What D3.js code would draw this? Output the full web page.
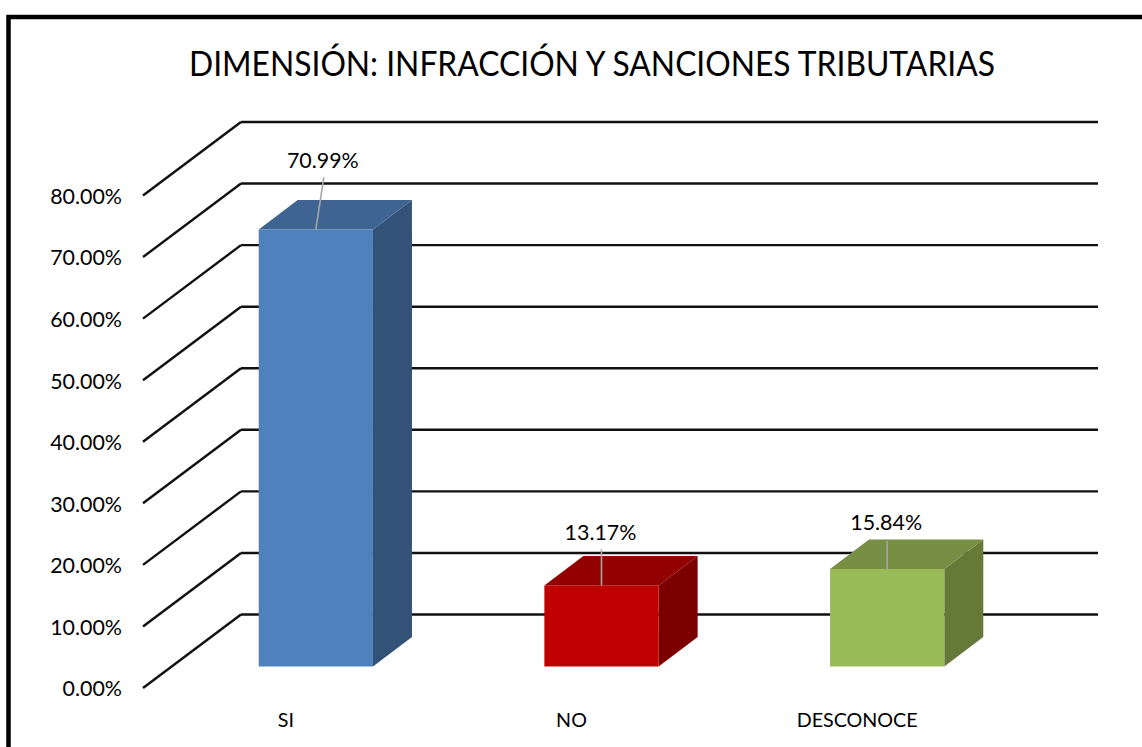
<!DOCTYPE html>
<meta charset="utf-8">
<style>
html, body { margin: 0; padding: 0; background: #fff; overflow: hidden; }
text { font-family: Lato, "Open Sans", sans-serif; fill: #000; }
.axis text { font-size: 21.4px; }
.axis path { display: none; }
.grid line { stroke: #111; stroke-width: 2.4; }
.leader { stroke: #a6a6a6; stroke-width: 1.6; }
.value { font-size: 21.4px; text-anchor: middle; }
.cat { font-size: 19.7px; text-anchor: middle; }
.title { font-size: 34.5px; text-anchor: middle; }
</style>

<svg width="1142" height="747"></svg>

<script src="https://d3js.org/d3.v7.min.js"></script>
<script>
var chartTitle = "DIMENSIÓN: INFRACCIÓN Y SANCIONES TRIBUTARIAS";
var categories = ["SI", "NO", "DESCONOCE"];
var values = [70.99, 13.17, 15.84];
var yTicks = [0, 10, 20, 30, 40, 50, 60, 70, 80];

// face colours for each bar: front, top, side
var frontColors = ["#4f81bd", "#c00000", "#9bbb59"];
var topColors = ["#3f6491", "#930000", "#778f45"];
var sideColors = ["#335277", "#7d0000", "#657a39"];

var svg = d3.select("svg");

// frame runs off the right and bottom of the picture
svg.append("rect")
    .attr("x", 8.5).attr("y", 17)
    .attr("width", 1200).attr("height", 800)
    .attr("fill", "#fff")
    .attr("stroke", "#000")
    .attr("stroke-width", 4.5);

var x = d3.scaleBand()
    .domain(categories)
    .range([143, 1000])
    .paddingInner(0.6)
    .paddingOuter(0.3);

var y = d3.scaleLinear()
    .domain([0, 80])
    .range([688, 195.5]);

// 3d offsets: wall depth, bar depth, and where the bar sits on the floor
var wallDx = 98, wallDy = -73.5;
var barDx = 39, barDy = -29.5;
var shiftDx = (wallDx - barDx) / 2 + 0.5, shiftDy = (wallDy - barDy) / 2 + 0.5;

// squeezed to the reference width, Lato runs wider than the original font
svg.append("text")
    .attr("class", "title")
    .attr("x", 592)
    .attr("y", 76)
    .attr("textLength", 806)
    .attr("lengthAdjust", "spacingAndGlyphs")
    .text(chartTitle);

// gridlines, side wall then back wall
var grid = svg.append("g").attr("class", "grid")
    .selectAll("g")
    .data(yTicks)
  .enter().append("g");

grid.append("line")
    .attr("x1", x.range()[0])
    .attr("y1", function(d) { return y(d); })
    .attr("x2", x.range()[0] + wallDx)
    .attr("y2", function(d) { return y(d) + wallDy; });

grid.append("line")
    .attr("x1", x.range()[0] + wallDx)
    .attr("y1", function(d) { return y(d) + wallDy; })
    .attr("x2", x.range()[1] + wallDx)
    .attr("y2", function(d) { return y(d) + wallDy; });

// axis labels
svg.append("g")
    .attr("class", "axis")
    .attr("transform", "translate(143,1)")
    .call(d3.axisLeft(y)
      .tickValues(yTicks)
      .tickSize(0)
      .tickPadding(21)
      .tickFormat(function(d) { return d3.format(".2f")(d) + "%"; }));

var rows = categories.map(function(c, i) {
  return { name: c, value: values[i], i: i };
});

var bars = svg.append("g")
    .selectAll("g")
    .data(rows)
  .enter().append("g")
    .attr("transform", "translate(" + shiftDx + "," + shiftDy + ")");

function pts(list) { return list.map(function(p) { return p.join(","); }).join(" "); }

bars.append("polygon")
    .attr("fill", function(d) { return sideColors[d.i]; })
    .attr("points", function(d) {
      var r = x(d.name) + x.bandwidth();
      return pts([[r, y(d.value)], [r + barDx, y(d.value) + barDy], [r + barDx, y(0) + barDy], [r, y(0)]]);
    });

bars.append("polygon")
    .attr("fill", function(d) { return topColors[d.i]; })
    .attr("points", function(d) {
      var l = x(d.name), r = l + x.bandwidth();
      return pts([[l, y(d.value)], [l + barDx, y(d.value) + barDy], [r + barDx, y(d.value) + barDy], [r, y(d.value)]]);
    });

bars.append("rect")
    .attr("fill", function(d) { return frontColors[d.i]; })
    .attr("x", function(d) { return x(d.name); })
    .attr("y", function(d) { return y(d.value); })
    .attr("width", x.bandwidth())
    .attr("height", function(d) { return y(0) - y(d.value); });

// value labels sit above the bar with a leader line: [label shift x, leader length, baseline gap]
var labelShift = [[8, 52, 9], [0, 36, 9], [0, 28, 11]];

bars.append("line")
    .attr("class", "leader")
    .attr("x1", function(d) { return x(d.name) + x.bandwidth() / 2; })
    .attr("y1", function(d) { return y(d.value); })
    .attr("x2", function(d) { return x(d.name) + x.bandwidth() / 2 + labelShift[d.i][0]; })
    .attr("y2", function(d) { return y(d.value) - labelShift[d.i][1]; });

bars.append("text")
    .attr("class", "value")
    .attr("x", function(d) { return x(d.name) + x.bandwidth() / 2 + labelShift[d.i][0] - 1; })
    .attr("y", function(d) { return y(d.value) - labelShift[d.i][1] - labelShift[d.i][2]; })
    .text(function(d) { return d3.format(".2f")(d.value) + "%"; });

// category labels
svg.append("g")
    .selectAll("text")
    .data(categories)
  .enter().append("text")
    .attr("class", "cat")
    .attr("x", function(d) { return x(d) + x.bandwidth() / 2; })
    .attr("y", 727)
    .text(function(d) { return d; });
</script>
